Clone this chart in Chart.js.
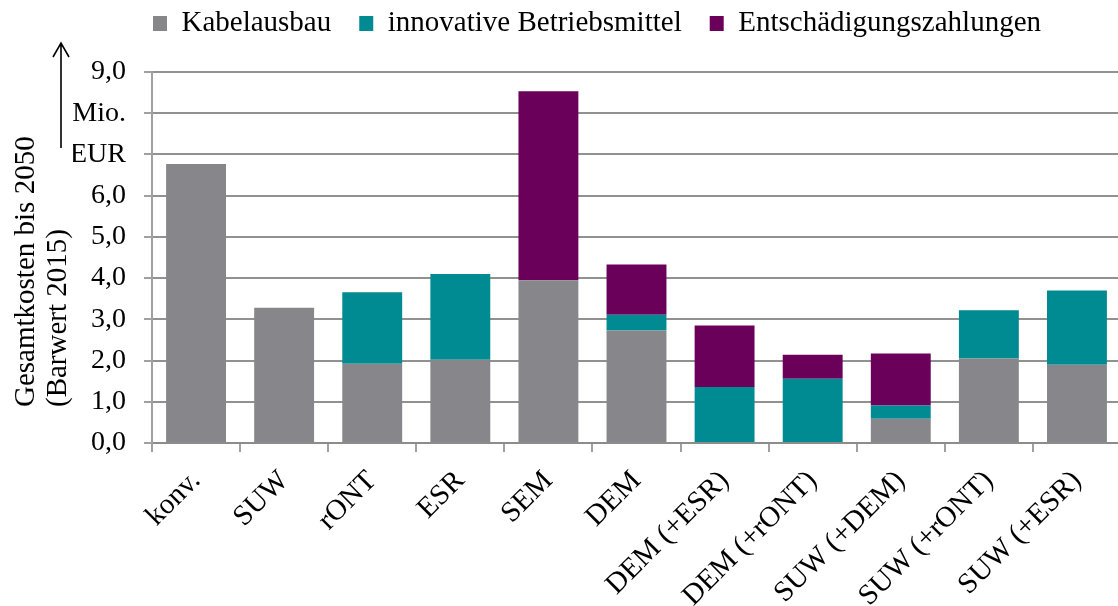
<!DOCTYPE html>
<html>
<head>
<meta charset="utf-8">
<script src="https://cdn.jsdelivr.net/npm/chart.js@4.4.1/dist/chart.umd.min.js"></script>
<style>
  html, body { margin: 0; padding: 0; background: #fff; overflow: hidden; }
  #wrap { width: 1121px; height: 606px; }
</style>
</head>
<body>
<div id="wrap"><canvas id="c" width="1121" height="606"></canvas></div>
<script>
// Gesamtkosten bis 2050 (Barwert 2015), Mio. EUR
const categories = ['konv.', 'SUW', 'rONT', 'ESR', 'SEM', 'DEM', 'DEM (+ESR)', 'DEM (+rONT)', 'SUW (+DEM)', 'SUW (+rONT)', 'SUW (+ESR)'];
const kabelausbau = [6.77, 3.28, 1.92, 2.02, 3.95, 2.73, 0, 0, 0.59, 2.05, 1.90];
const innovativeBetriebsmittel = [0, 0, 1.74, 2.08, 0, 0.38, 1.36, 1.56, 0.32, 1.17, 1.80];
const entschaedigungszahlungen = [0, 0, 0, 0, 4.58, 1.22, 1.49, 0.58, 1.26, 0, 0];
const seriesNames = ['Kabelausbau', 'innovative Betriebsmittel', 'Entschädigungszahlungen'];
// y tick labels; two of the steps carry the unit instead of a number
const yTickLabels = { 9: '9,0', 8: 'Mio.', 7: 'EUR', 6: '6,0', 5: '5,0', 4: '4,0', 3: '3,0', 2: '2,0', 1: '1,0', 0: '0,0' };
const yTitleLines = ['Gesamtkosten bis 2050', '(Barwert 2015)'];

const FONT = 'Liberation Serif';

// fixed legend block height so the plot area starts below it
const legendHeight = {
  id: 'legendHeight',
  beforeInit(chart) {
    const lg = chart.legend;
    if (!lg) return;
    const fit = lg.fit;
    lg.fit = function () { fit.call(this); this.height = 91; };
  }
};

// rotated axis title and the upward arrow next to the unit
const axisDecor = {
  id: 'axisDecor',
  afterDraw(chart) {
    const ctx = chart.ctx;
    ctx.save();
    ctx.fillStyle = '#000';
    ctx.font = '29px "' + FONT + '"';
    ctx.textAlign = 'left';
    ctx.textBaseline = 'alphabetic';
    const baseX = [34, 66];
    yTitleLines.forEach((t, i) => {
      ctx.save();
      ctx.translate(baseX[i], 407);
      ctx.rotate(-Math.PI / 2);
      ctx.fillText(t, 0, 0);
      ctx.restore();
    });
    ctx.strokeStyle = '#000';
    ctx.lineWidth = 1.6;
    ctx.beginPath();
    ctx.moveTo(61, 148);
    ctx.lineTo(61, 43);
    ctx.moveTo(53, 57);
    ctx.lineTo(61, 43);
    ctx.lineTo(69, 57);
    ctx.stroke();
    ctx.restore();
  }
};

new Chart(document.getElementById('c'), {
  type: 'bar',
  data: {
    labels: categories,
    datasets: [
      { label: seriesNames[0], data: kabelausbau, backgroundColor: '#87878b' },
      { label: seriesNames[1], data: innovativeBetriebsmittel, backgroundColor: '#008b92' },
      { label: seriesNames[2], data: entschaedigungszahlungen, backgroundColor: '#6b005b' }
    ]
  },
  options: {
    responsive: false,
    animation: false,
    layout: { padding: { left: 73, top: -19, right: 0, bottom: 0 } },
    datasets: { bar: { categoryPercentage: 1, barPercentage: 0.68, borderWidth: 0 } },
    plugins: {
      legend: {
        position: 'top',
        labels: {
          boxWidth: 14, boxHeight: 15, padding: 28, color: '#000',
          font: { family: FONT, size: 29 }
        }
      },
      tooltip: { enabled: false }
    },
    scales: {
      x: {
        stacked: true,
        afterFit(scale) { scale.height = 163; },
        grid: { display: true, drawOnChartArea: false, drawTicks: true, tickLength: 9, color: '#a0a0a0', lineWidth: 2, offset: true },
        border: { display: true, color: '#8c8c8c', width: 2 },
        ticks: { minRotation: 45, maxRotation: 45, color: '#000', font: { family: FONT, size: 29 }, padding: 12 }
      },
      y: {
        stacked: true,
        min: 0, max: 9,
        afterFit(scale) { scale.width = 79; },
        grid: { color: '#919191', lineWidth: 2, drawTicks: true, tickLength: 8, tickColor: '#a0a0a0' },
        border: { display: true, color: '#a0a0a0', width: 2 },
        ticks: {
          stepSize: 1, padding: 18, color: '#000', font: { family: FONT, size: 28 },
          callback: (v) => yTickLabels[v]
        }
      }
    }
  },
  plugins: [legendHeight, axisDecor]
});
</script>
</body>
</html>
